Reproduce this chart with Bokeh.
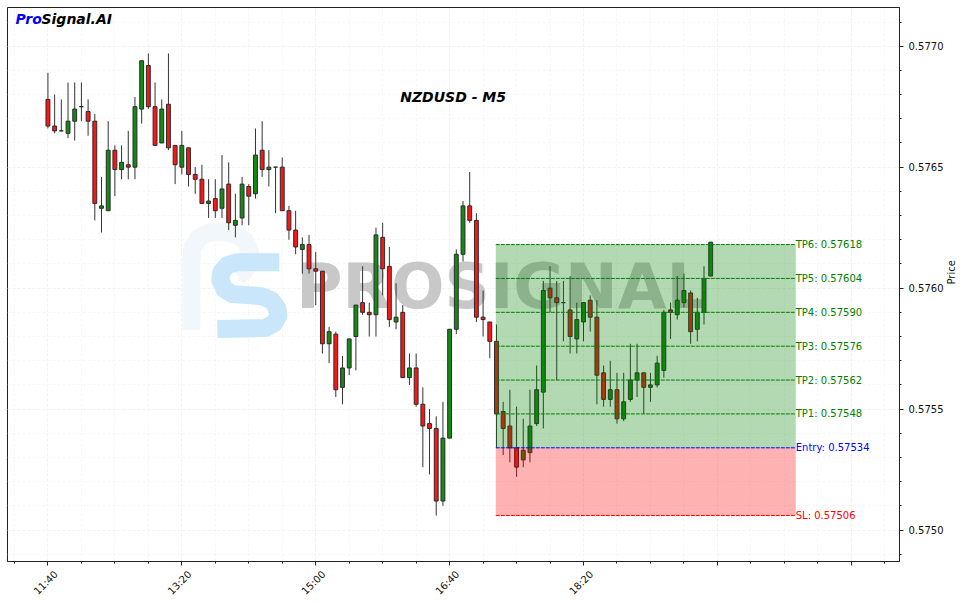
from bokeh.plotting import figure
from bokeh.embed import file_html
from bokeh.resources import INLINE
from bokeh.models import FixedTicker, PrintfTickFormatter, ColumnDataSource, LinearAxis, Range1d
from bokeh.core.properties import value
import math

BASE = 57500  # price in 1e-5 units; lists below are offsets from it
opens = [178,167,165,164,169,175,173,169,133,132,157,149,151,150,174,192,175,160,176,159,
         150,158,147,145,135,137,133,143,126,129,142,139,157,149,150,150,132,124,116,118,
         108,107,77,81,59,67,80,94,90,89,121,109,86,90,63,67,52,44,42,12,
         38,83,114,134,128,88,86,78,49,43,34,29,32,44,57,100,96,94,91,79,
         86,95,88,65,54,58,46,54,62,65,59,60,66,91,89,94,98,83,90,105]
highs = [189,180,178,185,185,185,178,172,146,169,159,159,165,179,194,197,185,178,197,159,
         165,158,150,151,145,145,155,152,139,146,143,166,169,157,150,154,134,132,121,122,
         115,107,84,82,72,79,93,109,94,125,127,117,102,93,73,73,59,50,47,53,
         83,116,136,148,131,99,86,85,53,58,51,46,58,68,103,109,103,103,105,94,
         94,97,95,68,70,65,65,77,77,65,65,72,91,94,105,106,99,96,109,119]
lows = [166,164,165,162,161,169,163,128,123,132,138,145,145,145,168,174,159,160,157,143,
        147,142,139,135,129,129,129,124,121,126,126,137,146,142,131,132,120,114,106,106,
        93,73,69,55,52,64,66,89,80,80,97,84,83,63,60,51,26,23,6,10,
        38,81,111,127,86,80,71,34,31,28,22,26,28,43,42,90,62,78,73,73,
        78,82,52,51,51,44,45,53,55,48,53,59,63,79,87,92,77,78,85,105]
closes = [167,165,165,169,174,175,169,135,134,157,149,152,150,175,194,175,159,174,158,151,
          159,147,145,135,136,132,141,127,128,143,138,155,149,150,150,132,124,117,118,108,
          107,77,82,58,67,79,93,90,89,122,108,87,88,63,67,52,43,42,12,38,
          83,114,134,128,88,87,78,48,42,34,26,33,43,58,99,96,94,94,80,87,
          94,88,64,54,58,46,53,62,65,59,60,69,90,90,95,99,82,90,104,119]

tick_idx = [0, 20, 40, 60, 80, 100, 120]
tick_lbl = ["11:40", "13:20", "15:00", "16:40", "18:20", "", ""]
y_ticks = [0.5750, 0.5755, 0.5760, 0.5765, 0.5770]
tp_levels = [0.57548, 0.57562, 0.57576, 0.57590, 0.57604, 0.57618]
tp_names = ["TP1", "TP2", "TP3", "TP4", "TP5", "TP6"]
entry = 0.57534
sl = 0.57506
zone_start, zone_end = 66.9, 111.7

def price(v):
    return (BASE + v) * 1e-5

n = len(opens)
xs = list(range(n))
src = ColumnDataSource(dict(
    x=xs,
    o=[price(v) for v in opens], h=[price(v) for v in highs],
    l=[price(v) for v in lows], c=[price(v) for v in closes],
    top=[price(max(a, b)) for a, b in zip(opens, closes)],
    bot=[price(min(a, b)) for a, b in zip(opens, closes)],
    col=["#138a13" if c >= o else "#ff1414" for o, c in zip(opens, closes)],
))

X0, X1, Y0, Y1 = -6.04, 127.2, 0.57487, 0.57716
p = figure(frame_width=892, frame_height=554, x_range=(X0, X1), y_range=(Y0, Y1),
           output_backend="svg", toolbar_location=None, y_axis_location="right",
           min_border_left=7, min_border_top=7, min_border_right=0, min_border_bottom=0,
           background_fill_color="white", border_fill_color="white")
p.outline_line_color = "#222222"
p.outline_line_width = 1

# axes
minor_x = [i for i in range(-5, 126, 5)]
p.xaxis.ticker = FixedTicker(ticks=tick_idx, minor_ticks=minor_x)
p.xaxis.major_label_overrides = {t: "" for t in tick_idx}
p.xaxis.major_label_standoff = 0
p.yaxis.ticker = FixedTicker(ticks=y_ticks, minor_ticks=[round(0.5749 + i * 0.0001, 4) for i in range(0, 24)])
p.yaxis.formatter = PrintfTickFormatter(format="%.4f")
p.yaxis.axis_label = "Price"
p.yaxis.axis_label_text_font_size = "10px"
p.yaxis.axis_label_text_font = "DejaVu Sans"
p.yaxis.axis_label_text_font_style = "normal"
p.yaxis.axis_label_text_color = "#111111"
p.yaxis.axis_label_standoff = 5
p.yaxis.axis_label_orientation = math.pi / 2
for ax in (p.xaxis, p.yaxis):
    ax.major_label_text_font = "DejaVu Sans"
    ax.major_label_text_font_size = "10px"
    ax.major_label_text_color = "#111111"
    ax.axis_line_color = "#222222"
    ax.major_tick_line_color = "#222222"
    ax.minor_tick_line_color = "#222222"
    ax.major_tick_out = 4
    ax.major_tick_in = 0
    ax.minor_tick_out = 2
    ax.minor_tick_in = 0
p.xaxis.major_label_text_font_size = "1px"
for g in (p.xgrid, p.ygrid):
    g.grid_line_color = "#f1f1f1"
    g.grid_line_dash = "3 2"
    g.grid_line_width = 0.8
    g.minor_grid_line_color = "#f4f4f4"
    g.minor_grid_line_dash = "3 2"
    g.minor_grid_line_width = 0.8

# rotated time labels: a second axis on a range nudged so the labels centre under the ticks
NUDGE = 8 / 6.7
p.extra_x_ranges = {"labels": Range1d(X0 - NUDGE, X1 - NUDGE)}
lab_axis = LinearAxis(x_range_name="labels", ticker=FixedTicker(ticks=tick_idx, minor_ticks=[]),
                      major_label_overrides={t: l for t, l in zip(tick_idx, tick_lbl)},
                      major_label_orientation=0.785, major_label_standoff=7,
                      major_label_text_font="DejaVu Sans", major_label_text_font_size="10px",
                      major_label_text_color="#111111", axis_line_color=None,
                      major_tick_line_color=None, minor_tick_line_color=None,
                      major_tick_out=0, major_tick_in=0, minor_tick_out=0, minor_tick_in=0)
p.add_layout(lab_axis, "below")

# watermark (decoration placed in pixel terms of the reference frame)
def fx(px):
    return X0 + (px - 8) / 6.7
def fy(py):
    return 0.5750 + (530 - py) / 2.42 * 1e-5

arch = [(192,330),(192,262),(193,248),(199,238),(208,233),(222,232),(236,234),(246,241),(251,252),(250,264),(244,272),(238,276)]
p.line([fx(a) for a, b in arch], [fy(b) for a, b in arch], line_color="#f2f7fb", line_width=18, line_join="round")
s_path = [(280,262),(238,262),(228,265),(222,272),(221,280),(225,289),(233,294),(262,296),(272,300),(278,308),(279,316),(275,323),(266,328),(218,329)]
p.line([fx(a) for a, b in s_path], [fy(b) for a, b in s_path], line_color="#c9e6fb", line_width=18, line_join="round")
p.text([fx(297)], [fy(286)], text=["PROSIGNAL"], text_font=value("DejaVu Sans"), text_font_size="63px",
       text_font_style="bold", text_color="#c8c8c8", text_baseline="middle", text_align="left")

# candles
p.segment("x", "h", "x", "l", source=src, line_color="#333333", line_width=1)
p.vbar("x", 0.58, "top", "bot", source=src, fill_color="col", line_color="#2b2b2b", line_width=1)

# zones
p.quad(left=[zone_start], right=[zone_end], bottom=[entry], top=[tp_levels[-1]], fill_color="green", fill_alpha=0.3, line_color=None)
p.quad(left=[zone_start], right=[zone_end], bottom=[sl], top=[entry], fill_color="red", fill_alpha=0.3, line_color=None)
for lv in tp_levels:
    p.line([zone_start, zone_end], [lv, lv], line_color="green", line_width=1, line_dash="4 1")
p.line([zone_start, zone_end], [entry, entry], line_color="blue", line_width=1, line_dash="4 1")
p.line([zone_start, zone_end], [sl, sl], line_color="red", line_width=1, line_dash="4 1")

lab_kw = dict(text_font=value("DejaVu Sans"), text_font_size="10px", text_baseline="middle", text_align="left")
p.text([zone_end] * 6, tp_levels, text=[f"{n_}: {v:.5f}" for n_, v in zip(tp_names, tp_levels)], text_color="green", **lab_kw)
p.text([zone_end], [entry], text=[f"Entry: {entry:.5f}"], text_color="blue", **lab_kw)
p.text([zone_end], [sl], text=[f"SL: {sl:.5f}"], text_color="red", **lab_kw)

# titles
tk = dict(text_font=value("DejaVu Sans"), text_font_size="14px", text_font_style="bold italic", text_baseline="middle")
p.text([fx(454)], [fy(97)], text=["NZDUSD - M5"], text_align="center", text_color="black", **tk)
p.text([fx(16)], [fy(19)], text=["Pro"], text_align="left", text_color="blue", **tk)
p.text([fx(42)], [fy(19)], text=["Signal.AI"], text_align="left", text_color="black", **tk)

open("out.html", "w").write(file_html(p, INLINE))
